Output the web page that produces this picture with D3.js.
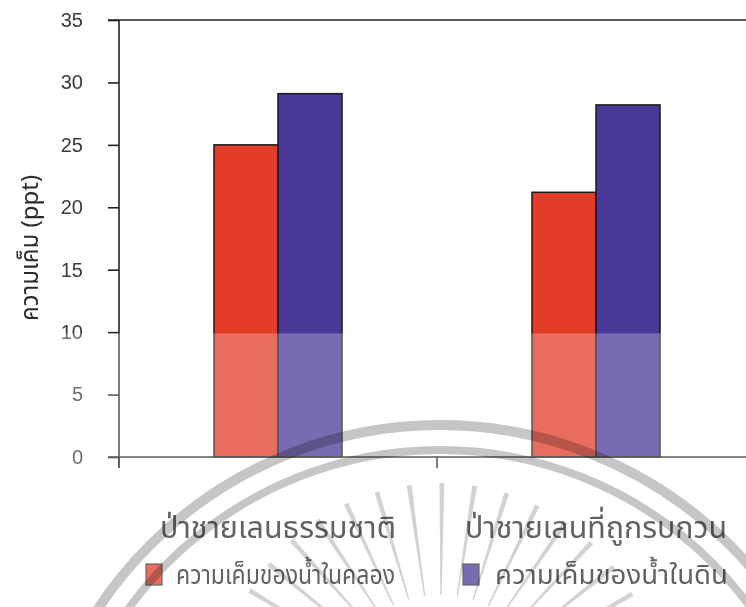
<!DOCTYPE html>
<html>
<head>
<meta charset="utf-8">
<script src="https://cdn.jsdelivr.net/npm/d3@7/dist/d3.min.js"></script>
<style>
  html, body { margin: 0; padding: 0; background: #fff; }
  svg { display: block; }
  .thai { font-family: "Noto Sans Thai", "Noto Sans", "DejaVu Sans", sans-serif; }
  .num { font-family: "Liberation Sans", Arial, sans-serif; }
</style>
</head>
<body>
<svg id="chart" width="746" height="607"></svg>
<script>
// Salinity (ppt) of canal water vs. soil water in two mangrove forest types
const categories = ["ป่าชายเลนธรรมชาติ", "ป่าชายเลนที่ถูกรบกวน"];
const seriesNames = ["ความเค็มของน้ำในคลอง", "ความเค็มของน้ำในดิน"];
const canalWater = [25.0, 21.2];
const soilWater = [29.1, 28.2];
const yTicks = [0, 5, 10, 15, 20, 25, 30, 35];
const yTitle = "ความเค็ม (ppt)";
const colors = ["#e23b27", "#4a3896"];

const svg = d3.select("#chart");
const W = 746, H = 607;
const plotLeft = 119, plotRight = 755, plotTop = 20, plotBottom = 457;

const x = d3.scaleBand().domain(categories).range([plotLeft, plotRight]).padding(0);
const x1 = d3.scaleBand().domain(seriesNames).range([-64, 64]).padding(0);
const y = d3.scaleLinear().domain([0, 35]).range([plotBottom, plotTop]);
const color = d3.scaleOrdinal().domain(seriesNames).range(colors);

const rows = categories.map((c, i) => ({
  cat: c,
  values: [
    { key: seriesNames[0], value: canalWater[i] },
    { key: seriesNames[1], value: soilWater[i] }
  ]
}));

// bars
const groups = svg.append("g").selectAll("g").data(rows).join("g")
  .attr("transform", d => `translate(${x(d.cat) + x.bandwidth() / 2},0)`);
groups.selectAll("rect").data(d => d.values).join("rect")
  .attr("x", d => x1(d.key))
  .attr("width", x1.bandwidth())
  .attr("y", d => y(d.value))
  .attr("height", d => y(0) - y(d.value))
  .attr("fill", d => color(d.key))
  .attr("stroke", "#1a1a1a")
  .attr("stroke-width", 1.5);

// top frame line
svg.append("line")
  .attr("x1", plotLeft - 11).attr("x2", W)
  .attr("y1", y(35)).attr("y2", y(35))
  .attr("stroke", "#222").attr("stroke-width", 1.6);

// y axis
const yAxis = svg.append("g")
  .attr("transform", `translate(${plotLeft},0)`)
  .call(d3.axisLeft(y).tickValues(yTicks).tickSize(11).tickPadding(25).tickSizeOuter(0));
yAxis.select(".domain").remove();
yAxis.selectAll(".tick line").attr("stroke", "#222").attr("stroke-width", 1.6);
yAxis.selectAll(".tick text")
  .attr("class", "num")
  .attr("font-size", 20)
  .attr("fill", "#3a3a3a");
svg.append("line")
  .attr("x1", plotLeft).attr("x2", plotLeft)
  .attr("y1", y(35)).attr("y2", plotBottom + 11)
  .attr("stroke", "#222").attr("stroke-width", 1.6);

// x axis: baseline with ticks on the category boundaries
svg.append("line")
  .attr("x1", plotLeft - 11).attr("x2", W)
  .attr("y1", plotBottom).attr("y2", plotBottom)
  .attr("stroke", "#222").attr("stroke-width", 1.6);
const boundaries = categories.map(c => x(c)).concat([plotRight]);
svg.append("g").selectAll("line").data(boundaries).join("line")
  .attr("x1", d => d).attr("x2", d => d)
  .attr("y1", plotBottom).attr("y2", plotBottom + 11)
  .attr("stroke", "#222").attr("stroke-width", 1.6);

// category labels
const catWidths = [236, 262];
svg.append("g").selectAll("text").data(categories).join("text")
  .attr("class", "thai")
  .attr("x", d => x(d) + x.bandwidth() / 2)
  .attr("y", 538)
  .attr("text-anchor", "middle")
  .attr("font-size", 31)
  .attr("textLength", (d, i) => catWidths[i])
  .attr("lengthAdjust", "spacingAndGlyphs")
  .attr("fill", "#2a2a2a")
  .text(d => d);

// y title
svg.append("text")
  .attr("class", "thai")
  .attr("transform", "translate(38,248) rotate(-90)")
  .attr("text-anchor", "middle")
  .attr("font-size", 24)
  .attr("fill", "#2a2a2a")
  .text(yTitle);

// legend
const legendX = [146, 463];
const legendTextW = [219, 233];
const legend = svg.append("g").selectAll("g").data(seriesNames).join("g")
  .attr("transform", (d, i) => `translate(${legendX[i]},564)`);
legend.append("rect")
  .attr("width", 16).attr("height", 21)
  .attr("fill", d => color(d))
  .attr("stroke", "#333").attr("stroke-width", 1.2);
legend.append("text")
  .attr("class", "thai")
  .attr("x", (d, i) => i === 0 ? 30 : 32).attr("y", 20)
  .attr("font-size", 27)
  .attr("textLength", (d, i) => legendTextW[i])
  .attr("lengthAdjust", "spacingAndGlyphs")
  .attr("fill", "#2a2a2a")
  .text(d => d);

// faded lower band of the printed page
svg.append("rect")
  .attr("x", 0).attr("y", y(9.9)).attr("width", W).attr("height", H - y(9.9))
  .attr("fill", "#fff").attr("opacity", 0.26);

// emblem rings and rays printed across the lower part
const mark = svg.append("g").style("mix-blend-mode", "multiply");
const cx = 440, cy = 835;
[[410, 10], [385, 8]].forEach(([r, w]) => {
  mark.append("circle")
    .attr("cx", cx).attr("cy", cy).attr("r", r)
    .attr("fill", "none").attr("stroke", "#c6c6c6").attr("stroke-width", w);
});
const rcx = 440, rcy = 705;
const rayAngles = d3.range(-166, -12, 8.5);
mark.selectAll("path.ray").data(rayAngles).join("path")
  .attr("class", "ray")
  .attr("d", a => {
    const t = a * Math.PI / 180, r0 = 110, r1 = 222, h0 = 0.006, h1 = 0.011;
    const p = (r, da) => [rcx + r * Math.cos(t + da), rcy + r * Math.sin(t + da)];
    return "M" + [p(r0, -h0), p(r1, -h1), p(r1, h1), p(r0, h0)].map(q => q.join(",")).join("L") + "Z";
  })
  .attr("fill", "#d2d2d2");
</script>
</body>
</html>
